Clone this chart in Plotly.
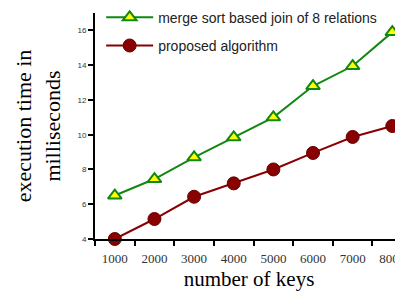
import plotly.graph_objects as go

keys = ["1000", "2000", "3000", "4000", "5000", "6000", "7000", "8000"]
merge_sort = [6.5, 7.45, 8.7, 9.85, 11.0, 12.8, 13.95, 15.9]
proposed = [4.0, 5.15, 6.43, 7.2, 8.0, 8.95, 9.87, 10.5]
y_ticks = [4, 6, 8, 10, 12, 14, 16]

fig = go.Figure()
fig.add_trace(go.Scatter(
    x=keys, y=merge_sort, mode="lines+markers",
    name="merge sort based join of 8 relations", legendgroup="a",
    line=dict(color="#118811", width=2),
    marker=dict(symbol="triangle-up", size=12, color="#ffff00",
                line=dict(color="#118811", width=2)),
    cliponaxis=False,
))
fig.add_trace(go.Scatter(
    x=keys, y=proposed, mode="lines+markers",
    name="proposed algorithm", legendgroup="b",
    line=dict(color="#880000", width=2),
    marker=dict(symbol="circle", size=13, color="#880000",
                line=dict(color="#660000", width=1)),
    cliponaxis=False,
))

# page body has an 8px default margin; figure sized to fill the rest
fig.update_layout(
    width=395, height=283,
    margin=dict(l=87, r=0, t=5, b=52, autoexpand=False),
    paper_bgcolor="white", plot_bgcolor="white",
    showlegend=True,
    legend=dict(x=0.02, y=1.05, xanchor="left", yanchor="top",
                bgcolor="rgba(0,0,0,0)", traceorder="grouped",
                tracegroupgap=7, itemwidth=47,
                font=dict(family="Liberation Sans, Arial", size=14, color="#222")),
    xaxis=dict(
        type="category", range=[-0.5, 7.27], automargin=False,
        showline=True, linecolor="black", linewidth=2,
        ticks="outside", tickson="boundaries", ticklen=5, tickwidth=2,
        tickcolor="black", showgrid=False, zeroline=False,
        ticklabelstandoff=6,
        tickfont=dict(family="Liberation Serif, Times New Roman", size=13, color="#333"),
        title=dict(text="number of keys", standoff=8,
                   font=dict(family="Liberation Serif, Times New Roman", size=21, color="black")),
    ),
    yaxis=dict(
        range=[4, 17], tickvals=y_ticks, automargin=False,
        showline=True, linecolor="black", linewidth=2,
        ticks="outside", ticklen=5, tickwidth=2, tickcolor="black",
        showgrid=False, zeroline=False,
        tickfont=dict(family="Liberation Sans, Arial", size=8, color="#333"),
        title=dict(text="execution time in<br>milliseconds", standoff=11,
                   font=dict(family="Liberation Serif, Times New Roman", size=22, color="black")),
    ),
)

fig.write_html("out.html")
